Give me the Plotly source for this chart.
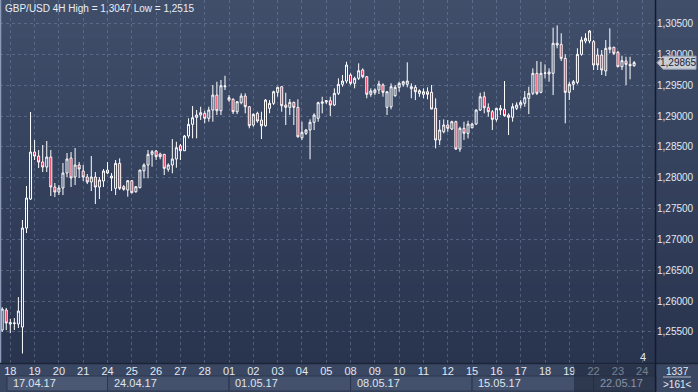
import plotly.graph_objects as go

# ---------------- data (4H candles, index 0 = 18.04 00:00) ----------------
idx = list(range(-2, 155))
opens = [1.2553,1.25855,1.25628,1.25636,1.25628,1.25579,1.27184,1.27654,1.28416,1.28351,
 1.28254,1.28173,1.28335,1.27849,1.27768,1.27833,1.28076,1.28319,1.28011,1.28206,
 1.28108,1.28011,1.2793,1.28011,1.27849,1.27946,1.28124,1.28027,1.27828,1.28233,
 1.27854,1.278,1.27951,1.27773,1.27838,1.28113,1.28206,1.28379,1.28433,1.28384,
 1.28379,1.28136,1.28206,1.28303,1.28518,1.28437,1.28676,1.28865,1.28979,1.29016,
 1.29044,1.28963,1.29097,1.2934,1.29086,1.29475,1.29259,1.29271,1.2907,1.29216,
 1.29324,1.29151,1.28854,1.29044,1.28935,1.28843,1.29125,1.29206,1.29384,1.29475,
 1.29178,1.29141,1.29222,1.29141,1.28648,1.2872,1.28773,1.28898,1.28963,1.29206,
 1.29227,1.29248,1.29178,1.29368,1.29514,1.29567,1.29665,1.2953,1.29611,1.29746,
 1.29637,1.29352,1.29378,1.29422,1.29503,1.29141,1.29151,1.29329,1.29465,1.29514,
 1.29514,1.29443,1.29465,1.29368,1.29352,1.29394,1.29384,1.29125,1.28611,1.28745,
 1.28854,1.28789,1.28908,1.28465,1.28801,1.2872,1.2881,1.2887,1.29097,1.29313,
 1.29135,1.2907,1.28946,1.29097,1.29109,1.29016,1.28979,1.29125,1.29178,1.29206,
 1.29287,1.29368,1.29692,1.29384,1.29692,1.29681,1.29692,1.30151,1.30162,1.29935,
 1.29384,1.29514,1.29546,1.3,1.30216,1.30216,1.30205,1.29989,1.29989,1.2973,
 1.30081,1.30114,1.30033,1.29799,1.29892,1.29838,1.29816]
highs = [1.2590,1.2589,1.2571,1.25725,1.26065,1.27314,1.27865,1.29065,1.28611,1.28449,
 1.2853,1.28595,1.28449,1.27914,1.27881,1.28238,1.284,1.28416,1.28481,1.28254,
 1.28206,1.2806,1.28351,1.28092,1.28011,1.28141,1.28254,1.28076,1.28287,1.28314,
 1.27881,1.27962,1.27962,1.27865,1.28127,1.28233,1.28449,1.28449,1.28449,1.28405,
 1.28384,1.28233,1.28627,1.28583,1.28546,1.28692,1.28963,1.29162,1.29097,1.29151,
 1.29086,1.29151,1.29503,1.29556,1.29584,1.29653,1.2934,1.29287,1.29243,1.29368,
 1.29368,1.29155,1.29044,1.2907,1.2907,1.29276,1.29259,1.2941,1.29475,1.29478,
 1.29378,1.29276,1.29232,1.29271,1.28908,1.28789,1.28946,1.29044,1.29232,1.29313,
 1.29259,1.29313,1.29449,1.29611,1.29665,1.2988,1.29692,1.29637,1.29854,1.29773,
 1.29649,1.29449,1.29449,1.29572,1.2953,1.29397,1.2953,1.29503,1.29556,1.29572,
 1.29871,1.2953,1.29503,1.29433,1.29449,1.29465,1.29503,1.29287,1.28935,1.28946,
 1.28935,1.28924,1.28924,1.28827,1.28908,1.28924,1.28891,1.29109,1.29378,1.29394,
 1.29206,1.29097,1.29135,1.29178,1.29567,1.29044,1.29206,1.29222,1.29259,1.29405,
 1.29475,1.29773,1.29892,1.2988,1.29838,1.29773,1.30432,1.3047,1.30341,1.3,
 1.29556,1.29584,1.30098,1.30286,1.30341,1.30394,1.30232,1.30098,1.3007,1.30232,
 1.30422,1.30124,1.30054,1.29978,1.29961,1.29961,1.29892]
lows = [1.2550,1.2553,1.2548,1.2553,1.25563,1.2515,1.27103,1.27638,1.28287,1.28157,
 1.28092,1.28092,1.27703,1.27687,1.27719,1.27719,1.28011,1.27849,1.27881,1.27995,
 1.27946,1.27897,1.27784,1.27573,1.27654,1.27849,1.2806,1.27784,1.27719,1.278,
 1.27789,1.27692,1.27747,1.27756,1.27828,1.2799,1.2799,1.28178,1.28287,1.28298,
 1.28043,1.28097,1.28071,1.28162,1.28287,1.28433,1.28638,1.28638,1.28638,1.28935,
 1.28882,1.28908,1.28908,1.29016,1.29016,1.29422,1.29232,1.29032,1.29032,1.2919,
 1.29044,1.28801,1.28827,1.28891,1.28627,1.28827,1.29044,1.29178,1.29313,1.2907,
 1.28854,1.29016,1.28854,1.28648,1.28611,1.28692,1.28298,1.28773,1.28908,1.29044,
 1.29195,1.29,1.29162,1.2934,1.29475,1.2953,1.29503,1.29449,1.29584,1.29611,
 1.29287,1.29313,1.2934,1.29357,1.29313,1.29016,1.29109,1.29313,1.29394,1.29475,
 1.29465,1.29287,1.29259,1.29313,1.29287,1.29271,1.29109,1.28476,1.2853,1.2872,
 1.28745,1.28773,1.28449,1.28421,1.28611,1.28638,1.28801,1.28854,1.29081,1.29044,
 1.28989,1.28773,1.28908,1.29016,1.28989,1.28692,1.28908,1.29097,1.29125,1.29151,
 1.29032,1.2934,1.2934,1.29368,1.29611,1.29556,1.2934,1.30098,1.29892,1.28882,
 1.29259,1.29422,1.29514,1.29978,1.30179,1.30179,1.29746,1.29746,1.29665,1.29649,
 1.30017,1.29989,1.29799,1.29746,1.29503,1.29595,1.29799]
closes = [1.2587,1.25644,1.25652,1.25644,1.25838,1.27184,1.27671,1.28416,1.28351,1.28254,
 1.28173,1.28335,1.27849,1.27768,1.27833,1.28076,1.28303,1.27995,1.28206,1.28141,
 1.28011,1.2793,1.28011,1.27849,1.27962,1.28108,1.28076,1.27995,1.28233,1.27828,
 1.27812,1.27951,1.27756,1.27854,1.28124,1.28206,1.28379,1.28421,1.2834,1.2834,
 1.28152,1.28206,1.28303,1.28486,1.28437,1.28676,1.28865,1.28972,1.29016,1.29054,
 1.28963,1.29097,1.2934,1.29086,1.29491,1.29486,1.29297,1.2907,1.29232,1.29324,
 1.29151,1.28843,1.29028,1.28919,1.28843,1.29259,1.29206,1.29394,1.29465,1.29167,
 1.29141,1.29222,1.29141,1.28664,1.28736,1.28773,1.28898,1.29016,1.29216,1.29227,
 1.29248,1.29178,1.29368,1.29514,1.29567,1.29827,1.2953,1.29611,1.29734,1.29637,
 1.29352,1.29405,1.29422,1.29519,1.29384,1.29394,1.29475,1.29465,1.2953,1.29556,
 1.29567,1.29475,1.29394,1.2941,1.29394,1.29352,1.29113,1.28611,1.28773,1.28854,
 1.28801,1.28908,1.28465,1.28801,1.2872,1.2887,1.2887,1.29097,1.29313,1.29135,
 1.2907,1.28946,1.29125,1.29125,1.29005,1.28979,1.29151,1.29178,1.29222,1.29297,
 1.29368,1.29692,1.29368,1.29692,1.29697,1.29713,1.30179,1.30179,1.29935,1.29384,
 1.29514,1.29556,1.3,1.30232,1.3026,1.30378,1.29827,1.29827,1.29746,1.30098,
 1.30114,1.30017,1.29799,1.29897,1.29838,1.29816,1.29865]

day_ticks = [6 * k for k in range(27)]
day_labels = ["18","19","20","21","24","25","26","27","28","01","02","03","04","05",
              "08","09","10","11","12","15","16","17","18","19","22","23","24"]
week_starts = [-6, 24, 54, 84, 114, 144]
week_labels = ["17.04.17","24.04.17","01.05.17","08.05.17","15.05.17","22.05.17"]
price_ticks = [1.255, 1.26, 1.265, 1.27, 1.275, 1.28, 1.285, 1.29, 1.295, 1.30, 1.305]
price_labels = ["1,25500","1,26000","1,26500","1,27000","1,27500","1,28000",
                "1,28500","1,29000","1,29500","1,30000","1,30500"]
last_price = 1.29865
last_label = "1,29865"
title_text = "GBP/USD 4H High = 1,3047 Low = 1,2515"

# ---------------- layout geometry ----------------
W, H = 698, 392
ML, MR, MT, MB = 0, 42, 0, 29
PW, PH = W - ML - MR, H - MT - MB
XMIN, XMAX = -2.54, 159.4
YMIN, YMAX = 1.24996, 1.30881
FONT = "Liberation Sans, Arial, sans-serif"

def px_x(px):
    return (px - ML) / PW

def px_y(py):
    return (H - MB - py) / PH

def idx_paper(i):
    return (i - XMIN) / (XMAX - XMIN)

fig = go.Figure()
fig.add_trace(go.Candlestick(
    x=idx, open=opens, high=highs, low=lows, close=closes,
    increasing=dict(line=dict(color="#ffffff", width=1), fillcolor="rgba(0,0,0,0)"),
    decreasing=dict(line=dict(color="#ffffff", width=1), fillcolor="#e0143c"),
    whiskerwidth=0, hoverinfo="skip", showlegend=False,
))

shapes = []
# gradient background (whole figure)
top = (64, 78, 106)
bot = (39, 50, 76)
N = 40
for k in range(N):
    t = k / (N - 1)
    c = tuple(round(top[j] + (bot[j] - top[j]) * t) for j in range(3))
    y0 = H * k / N
    y1 = H * (k + 1) / N + 0.6
    shapes.append(dict(type="rect", xref="paper", yref="paper", layer="below",
                       x0=px_x(0), x1=px_x(W), y0=px_y(y1), y1=px_y(y0),
                       fillcolor="rgb(%d,%d,%d)" % c, line=dict(width=0)))
# bottom time band
shapes.append(dict(type="rect", xref="paper", yref="paper", layer="below",
                   x0=px_x(0), x1=px_x(W), y0=px_y(H), y1=px_y(H - MB),
                   fillcolor="#3a4763", line=dict(width=0)))
# week boxes
for k, ws in enumerate(week_starts):
    we = week_starts[k + 1] if k + 1 < len(week_starts) else XMAX
    x0 = max(idx_paper(ws), px_x(7))
    x1 = min(idx_paper(we), 1.0)
    shapes.append(dict(type="rect", xref="paper", yref="paper", layer="below",
                       x0=x0, x1=x1, y0=px_y(391), y1=px_y(376),
                       fillcolor="#4b5873" if k == 0 else "#44516c",
                       line=dict(color="#2c3650", width=1)))
# left light border
shapes.append(dict(type="line", xref="paper", yref="paper", layer="above",
                   x0=px_x(0.5), x1=px_x(0.5), y0=px_y(H - MB), y1=px_y(0),
                   line=dict(color="#8a9ab8", width=1.5)))
# separators
shapes.append(dict(type="line", xref="paper", yref="paper", layer="above",
                   x0=px_x(0), x1=px_x(W), y0=px_y(363.5), y1=px_y(363.5),
                   line=dict(color="#1c2438", width=1.5)))
shapes.append(dict(type="line", xref="paper", yref="paper", layer="above",
                   x0=px_x(655.5), x1=px_x(655.5), y0=px_y(H), y1=px_y(0),
                   line=dict(color="#141b2b", width=1.5)))
# dim overlay on right part of time band
shapes.append(dict(type="rect", xref="paper", yref="paper", layer="above",
                   x0=px_x(574), x1=px_x(655), y0=px_y(H), y1=px_y(364.5),
                   fillcolor="rgba(30,38,58,0.55)", line=dict(width=0)))
# separator under 1337
shapes.append(dict(type="line", xref="paper", yref="paper", layer="above",
                   x0=px_x(663), x1=px_x(691), y0=px_y(377), y1=px_y(377),
                   line=dict(color="#aab4c6", width=1)))
# current price tag (arrow + box)
hh = 6.5 * (YMAX - YMIN) / PH
path = "M %f,%f L %f,%f L %f,%f L %f,%f L %f,%f Z" % (
    px_x(657), last_price,
    px_x(663), last_price + hh,
    px_x(696), last_price + hh,
    px_x(696), last_price - hh,
    px_x(663), last_price - hh)
shapes.append(dict(type="path", xref="paper", yref="y", layer="above", path=path,
                   fillcolor="#c9ced6", line=dict(color="#9aa3b3", width=1)))

annotations = []
annotations.append(dict(text=title_text, xref="paper", yref="paper",
                        x=px_x(3), y=px_y(8), xanchor="left", yanchor="middle",
                        showarrow=False, font=dict(family=FONT, size=10, color="#e8edf5")))
for k, ws in enumerate(week_starts):
    if k == 0:
        xp = px_x(11)
    else:
        xp = idx_paper(ws) + 4 / PW
    annotations.append(dict(text=week_labels[k], xref="paper", yref="paper",
                            x=xp, y=px_y(383), xanchor="left", yanchor="middle",
                            showarrow=False,
                            font=dict(family=FONT, size=11,
                                      color="#8a93a6" if k == len(week_starts) - 1 else "#dfe5ee")))
annotations.append(dict(text=last_label, xref="paper", yref="y", x=px_x(678), y=last_price,
                        xanchor="center", yanchor="middle", showarrow=False,
                        font=dict(family=FONT, size=10, color="#1b2233")))
annotations.append(dict(text="1337", xref="paper", yref="paper", x=px_x(677), y=px_y(371),
                        xanchor="center", yanchor="middle", showarrow=False,
                        font=dict(family=FONT, size=10, color="#e2e8f0")))
annotations.append(dict(text="&gt;161&lt;", xref="paper", yref="paper", x=px_x(677), y=px_y(384),
                        xanchor="center", yanchor="middle", showarrow=False,
                        font=dict(family=FONT, size=10, color="#e2e8f0")))
annotations.append(dict(text="4", xref="paper", yref="paper", x=px_x(643), y=px_y(357),
                        xanchor="center", yanchor="middle", showarrow=False,
                        font=dict(family=FONT, size=11, color="#e2e8f0")))

fig.update_layout(
    width=W, height=H,
    margin=dict(l=ML, r=MR, t=MT, b=MB, pad=0),
    paper_bgcolor="#2f3a55", plot_bgcolor="rgba(0,0,0,0)",
    shapes=shapes, annotations=annotations, showlegend=False,
    xaxis=dict(range=[XMIN, XMAX], tickvals=day_ticks, ticktext=day_labels,
               showgrid=True, gridcolor="rgba(125,142,175,0.45)", griddash="3px,3px", gridwidth=1,
               zeroline=False, showline=False, ticks="", rangeslider=dict(visible=False),
               tickfont=dict(family=FONT, size=11, color="#e2e8f0")),
    yaxis=dict(range=[YMIN, YMAX], side="right", tickvals=price_ticks, ticktext=price_labels,
               showgrid=True, gridcolor="rgba(125,142,175,0.45)", griddash="3px,3px", gridwidth=1,
               zeroline=False, showline=False, ticks="",
               tickfont=dict(family=FONT, size=10, color="#e2e8f0")),
)

fig.write_html("out.html", config={"displayModeBar": False, "staticPlot": True},
               post_script="document.body.style.margin='0px';document.body.style.padding='0px';document.body.style.overflow='hidden';")
